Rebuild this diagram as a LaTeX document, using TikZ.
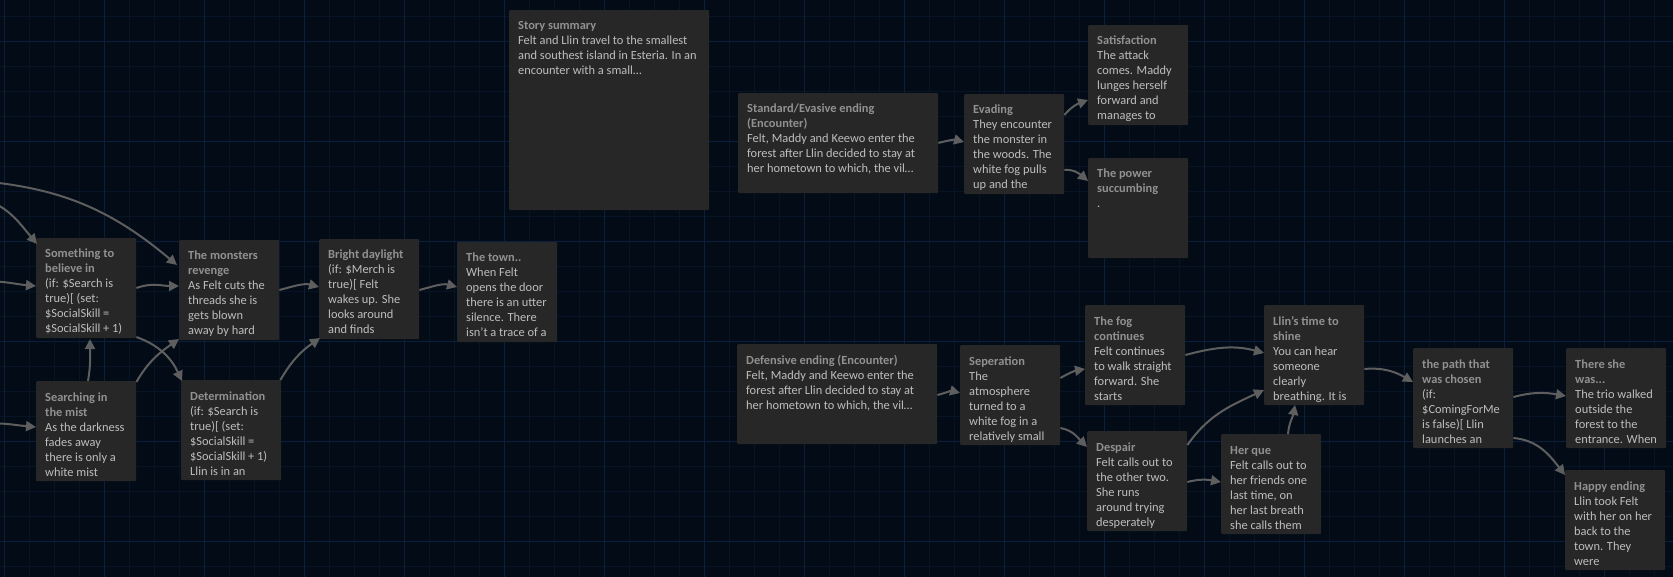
\documentclass[tikz,border=0pt]{standalone}
\usepackage{fontspec}
\setmainfont{Carlito}
\usetikzlibrary{arrows.meta,calc}
\definecolor{bg}{HTML}{020B16}
\definecolor{gridminor}{HTML}{061426}
\definecolor{gridmajor}{HTML}{0A1F3B}
\definecolor{boxgray}{HTML}{272727}
\definecolor{ttlgray}{HTML}{919191}
\definecolor{bodygray}{HTML}{BEBEBE}
\definecolor{linkgray}{HTML}{5E5E5E}
\newcommand\ttl[1]{{\bfseries\color{ttlgray}#1}}
\newcommand\psg[6]{%
  \node[pbox, minimum width=#4pt, minimum height=#5pt] (#1) at (#2,#3) {};
  \node[ptext, text=bodygray] (#1-t) at ($(#1.north west)+(9,20)$)
    {\parbox[t]{#4pt}{\fontsize{12.4}{15}\selectfont\leavevmode#6}};
}
\begin{document}
\begin{tikzpicture}[x=1pt,y=-1pt,
  pbox/.style={anchor=north west, fill=boxgray, draw=none, inner sep=0pt, rounded corners=1pt},
  ptext/.style={anchor=base west, inner sep=0pt},
  link/.style={draw=linkgray, line width=2pt, -{Triangle[length=10pt,width=10pt]}}]
\useasboundingbox (0,0) rectangle (1673,577);
\fill[bg] (0,0) rectangle (1673,577);
\foreach \i in {0,...,67} {\draw[gridminor, line width=1pt] (4+25*\i,0) -- (4+25*\i,577);}
\foreach \j in {0,...,23} {\draw[gridminor, line width=1pt] (0,16.7+25*\j) -- (1673,16.7+25*\j);}
\foreach \i in {0,...,16} {\draw[gridmajor, line width=1pt] (4+100*\i,0) -- (4+100*\i,577);}
\foreach \j in {0,...,5} {\draw[gridmajor, line width=1pt] (0,41.7+100*\j) -- (1673,41.7+100*\j);}

\psg{sum}{509}{10}{200}{200}{\ttl{Story summary}\\Felt and Llin travel to the smallest\\and southest island in Esteria. In an\\encounter with a small…}
\psg{std}{738}{93}{200}{100}{\ttl{Standard/Evasive ending}\\\ttl{(Encounter)}\\Felt, Maddy and Keewo enter the\\forest after Llin decided to stay at\\her hometown to which, the vil…}
\psg{eva}{964}{94}{100}{100}{\ttl{Evading}\\They encounter\\the monster in\\the woods. The\\white fog pulls\\up and the}
\psg{sat}{1088}{25}{100}{100}{\ttl{Satisfaction}\\The attack\\comes. Maddy\\lunges herself\\forward and\\manages to}
\psg{pow}{1088}{158}{100}{100}{\ttl{The power}\\\ttl{succumbing}\\.}
\psg{def}{737}{344}{200}{100}{\ttl{Defensive ending (Encounter)}\\Felt, Maddy and Keewo enter the\\forest after Llin decided to stay at\\her hometown to which, the vil…}
\psg{sep}{960}{345}{100}{100}{\ttl{Seperation}\\The\\atmosphere\\turned to a\\white fog in a\\relatively small}
\psg{fog}{1085}{305}{100}{100}{\ttl{The fog}\\\ttl{continues}\\Felt continues\\to walk straight\\forward. She\\starts}
\psg{des}{1087}{431}{100}{100}{\ttl{Despair}\\Felt calls out to\\the other two.\\She runs\\around trying\\desperately}
\psg{lli}{1264}{305}{100}{100}{\ttl{Llin's time to}\\\ttl{shine}\\You can hear\\someone\\clearly\\breathing. It is}
\psg{her}{1221}{434}{100}{100}{\ttl{Her que}\\Felt calls out to\\her friends one\\last time, on\\her last breath\\she calls them}
\psg{pat}{1413}{348}{100}{100}{\ttl{the path that}\\\ttl{was chosen}\\(if:\\\$ComingForMe\\is false)[ Llin\\launches an}
\psg{the}{1566}{348}{100}{100}{\ttl{There she}\\\ttl{was...}\\The trio walked\\outside the\\forest to the\\entrance. When}
\psg{hap}{1565}{470}{100}{100}{\ttl{Happy ending}\\Llin took Felt\\with her on her\\back to the\\town. They\\were}
\psg{sti}{36}{238}{100}{100}{\ttl{Something to}\\\ttl{believe in}\\(if: \$Search is\\true)[ (set:\\\$SocialSkill =\\\$SocialSkill + 1)}
\psg{mon}{179}{240}{100}{100}{\ttl{The monsters}\\\ttl{revenge}\\As Felt cuts the\\threads she is\\gets blown\\away by hard}
\psg{sea}{36}{381}{100}{100}{\ttl{Searching in}\\\ttl{the mist}\\As the darkness\\fades away\\there is only a\\white mist}
\psg{det}{181}{380}{100}{100}{\ttl{Determination}\\(if: \$Search is\\true)[ (set:\\\$SocialSkill =\\\$SocialSkill + 1)\\Llin is in an}
\psg{bri}{319}{239}{100}{100}{\ttl{Bright daylight}\\(if: \$Merch is\\true)[ Felt\\wakes up. She\\looks around\\and finds}
\psg{tow}{457}{242}{100}{100}{\ttl{The town..}\\When Felt\\opens the door\\there is an utter\\silence. There\\isn't a trace of a}

\coordinate (in1) at (-20,198);
\coordinate (in2) at (-20,181);
\coordinate (in3) at (-20,282);
\coordinate (in4) at (-20,424);

\draw[link] (in1) to[out=-15,in=130] ($(sti.north west)+(1,6)$);
\draw[link] (in2) to[out=-5,in=140] ($(mon.north west)+(-2,25)$);
\draw[link] (in3) to[out=5,in=175] ($(sti.north west)+(0,48)$);
\draw[link] (in4) to[out=5,in=175] ($(sea.north west)+(0,46)$);
\draw[link] ($(sti.north east)+(0,50)$) to[out=20,in=180] ($(mon.north west)+(0,46)$);
\draw[link] ($(sti.north east)+(0,99)$) to[out=-20,in=115] ($(det.north west)+(1,1)$);
\draw[link] ($(sea.north west)+(52,0)$) to[out=80,in=-90] ($(sti.north west)+(54,101)$);
\draw[link] ($(sea.north east)+(0,1)$) to[out=60,in=-145] ($(mon.north west)+(0,99)$);
\draw[link] ($(mon.north east)+(0,50)$) to[out=15,in=165] ($(bri.north west)+(0,48)$);
\draw[link] ($(det.north east)+(-1,0)$) to[out=60,in=-145] ($(bri.north west)+(1,99)$);
\draw[link] ($(bri.north east)+(0,51)$) to[out=15,in=165] ($(tow.north west)+(0,45)$);
\draw[link] ($(std.north east)+(0,50)$) to[out=15,in=165] ($(eva.north west)+(0,48)$);
\draw[link] ($(eva.north east)+(0,21)$) to[out=50,in=-160] ($(sat.north west)+(0,75)$);
\draw[link] ($(eva.north east)+(0,76)$) to[out=5,in=140] ($(pow.north west)+(0,23)$);
\draw[link] ($(def.north east)+(0,51)$) to[out=15,in=165] ($(sep.north west)+(0,48)$);
\draw[link] ($(sep.north east)+(0,33)$) to[out=30,in=-170] ($(fog.north west)+(0,64)$);
\draw[link] ($(sep.north east)+(0,83)$) to[out=-10,in=135] ($(des.north west)+(0,16)$);
\draw[link] ($(fog.north east)+(0,50)$) to[out=15,in=165] ($(lli.north west)+(0,48)$);
\draw[link] ($(des.north east)+(0,14)$) to[out=55,in=-155] ($(lli.north west)+(0,85)$);
\draw[link] ($(des.north east)+(0,51)$) to[out=15,in=170] ($(her.north west)+(0,48)$);
\draw[link] ($(her.north west)+(67,0)$) to[out=85,in=-100] ($(lli.north west)+(31,100)$);
\draw[link] ($(lli.north east)+(0,64)$) to[out=5,in=150] ($(pat.north west)+(0,34)$);
\draw[link] ($(pat.north east)+(0,49)$) to[out=15,in=170] ($(the.north west)+(0,48)$);
\draw[link] ($(pat.north east)+(0,90)$) to[out=-5,in=128] ($(hap.north west)+(0,5)$);
\end{tikzpicture}
\end{document}
